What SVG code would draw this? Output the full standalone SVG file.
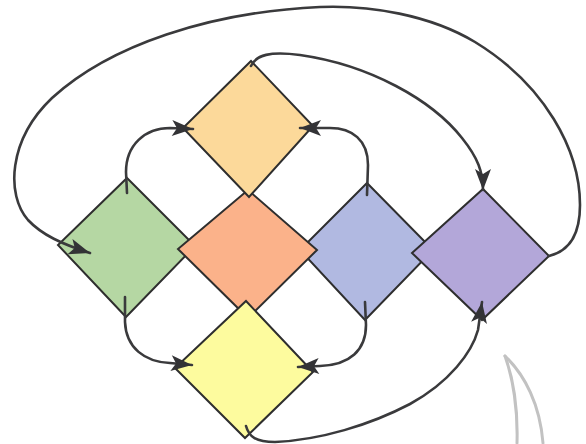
<svg xmlns="http://www.w3.org/2000/svg" width="586" height="444" viewBox="0 0 586 444">
  <style>
    .node { stroke: #2e2e2e; stroke-width: 2; stroke-linejoin: miter; }
    .conn { fill: none; stroke: #3a3a3c; stroke-width: 2.6; stroke-linecap: round; }
    .faint { fill: none; stroke: #c2c2c2; stroke-width: 3; stroke-linecap: round; }
  </style>
  <defs>
    <marker id="arrow" markerUnits="userSpaceOnUse" markerWidth="24" markerHeight="18" refX="21" refY="8" orient="auto" overflow="visible">
      <path d="M0,0 L21,8 L0,16 L5,8 z" fill="#333336"/>
    </marker>
  </defs>
  <rect width="586" height="444" fill="#ffffff"/>

  <g id="node-green">
    <polygon class="node" points="127,178 195,246 126,317 58,245" fill="#b5d7a3"/>
  </g>
  <g id="node-blue">
    <polygon class="node" points="367,183 433,250 365,320 300,250" fill="#b1b9e1"/>
  </g>
  <g id="node-purple">
    <polygon class="node" points="483,189 549,256 482,320 412,253" fill="#b3a7d9"/>
  </g>
  <g id="node-orange">
    <polygon class="node" points="248,190 317,250 248,318 178,249" fill="#fbb28a"/>
  </g>
  <g id="node-peach">
    <polygon class="node" points="251,61 313,126 249,197 183,128" fill="#fcd99a"/>
  </g>
  <g id="node-yellow">
    <polygon class="node" points="246,301 313,372 245,438 175,368" fill="#fdfb9e"/>
  </g>

  <g id="connectors">
    <path class="conn" d="M549,256 C566,252 580,238 580,205 C580,150 545,85 475,42 C430,15 370,5 320,7 C210,12 110,45 52,98 C8,140 6,195 28,220 C42,235 62,244 90,253" marker-end="url(#arrow)"/>
    <path class="conn" d="M251,66 C256,55 270,51 300,55 C370,65 432,100 462,138 C478,158 483,172 483,190" marker-end="url(#arrow)"/>
    <path class="conn" d="M127,193 L126,172 C126,145 145,128 170,128 L193,129" marker-end="url(#arrow)"/>
    <path class="conn" d="M367,195 L368,165 C368,140 352,128 330,128 L300,128" marker-end="url(#arrow)"/>
    <path class="conn" d="M125,297 L125,322 C126,348 145,362 170,363 L192,365" marker-end="url(#arrow)"/>
    <path class="conn" d="M365,302 L366,325 C366,350 350,365 320,366 L298,367" marker-end="url(#arrow)"/>
    <path class="conn" d="M246,426 C249,437 256,442 275,442 C320,440 370,425 410,404 C450,382 472,352 478,330 L482,302" marker-end="url(#arrow)"/>
  </g>

  <path class="faint" d="M517,443 C518,410 513,378 505,356"/>
  <path class="faint" d="M505,356 C525,375 540,405 543,443"/>
</svg>
